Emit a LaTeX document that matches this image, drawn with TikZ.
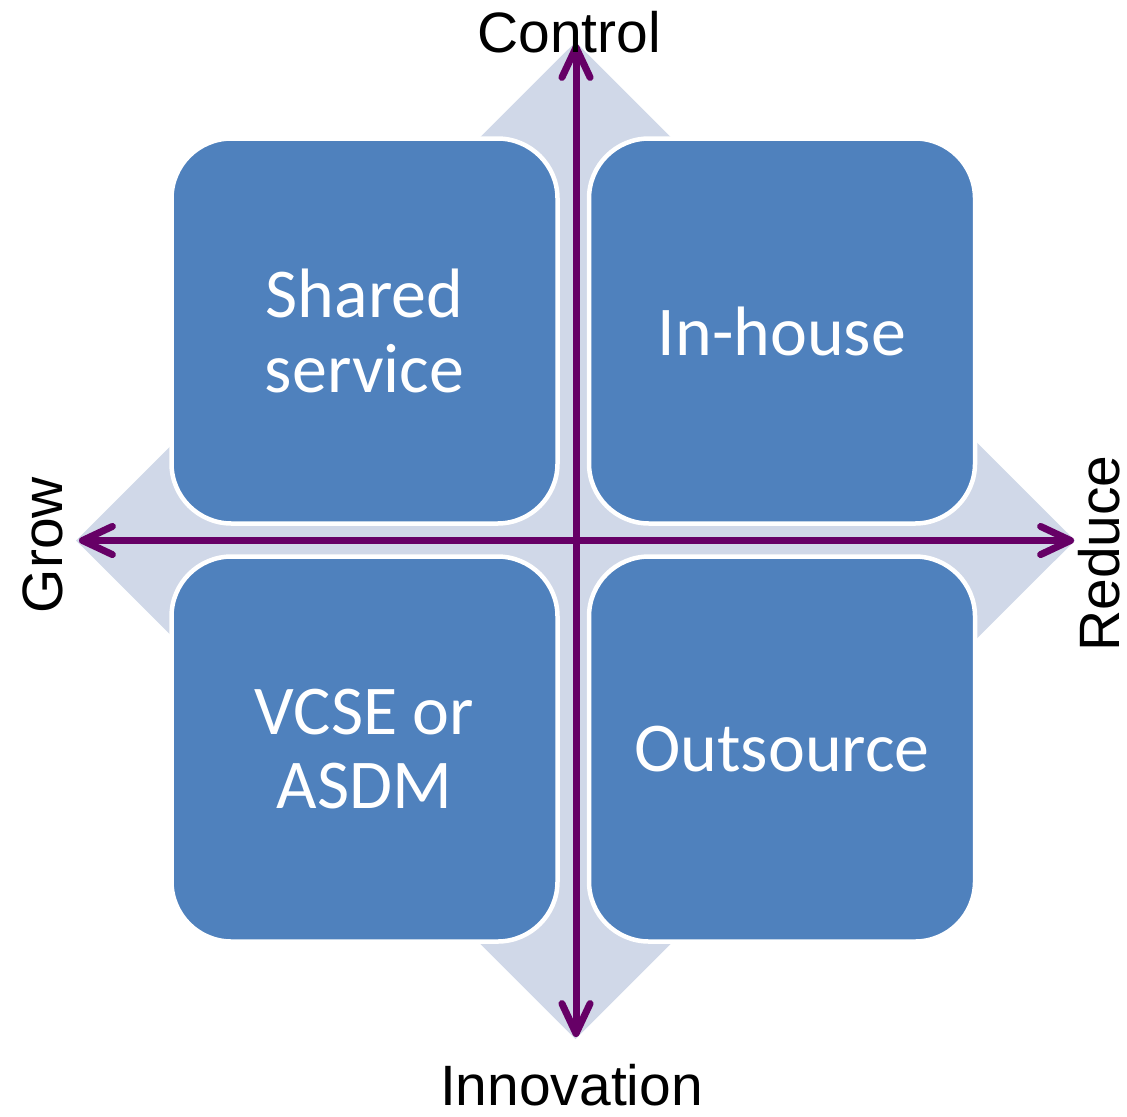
\documentclass[tikz,border=0pt]{standalone}
\usepackage{fontspec}
\setmainfont{Liberation Sans}
\newfontfamily\calfont{Carlito}
\usetikzlibrary{arrows.meta}
\definecolor{boxblue}{HTML}{4F81BD}
\definecolor{diamondgrey}{HTML}{D0D8E8}
\definecolor{axispurple}{HTML}{660066}
\begin{document}
\begin{tikzpicture}%
\useasboundingbox (0,0) rectangle (11.27,11.16);
\fill[diamondgrey] (5.755,10.74)--(10.75,5.755)--(5.755,0.77)--(0.76,5.755)--cycle; %%
\begin{scope}[shape=rectangle,align=center]%
\tikzstyle{every node}=[draw=white,line width=.045cm,fill=boxblue,rounded corners=.6cm,minimum width=3.86cm,minimum height=3.85cm,text=white,font=\calfont\fontsize{19.9}{21.3}\selectfont] %%
\node (shared) at (3.645,7.85)  {Shared\\service}; %%
\node (inhouse) at (7.82,7.85)  {In-house}; %%
\node (vcse) at (3.645,3.67)  {VCSE or\\ASDM}; %%
\node (outsrc) at (7.82,3.67)  {Outsource}; %%
\end{scope}
\coordinate (ctl) at (5.76,10.72);
\coordinate (inn) at (5.76,0.79);
\coordinate (grw) at (0.79,5.755);
\coordinate (red) at (10.74,5.755);
\tikzstyle{axis}=[axispurple,line width=.07cm,{Straight Barb[length=8.5pt,width=8pt,round]}-{Straight Barb[length=8.5pt,width=8pt,round]}]
\draw[axis] (inn)--(ctl); %%
\draw[axis] (grw)--(red); %%
\tikzstyle{label}=[font=\fontsize{16.2}{19}\selectfont,anchor=base,inner sep=0pt]
\node[label] (lctl) at (5.69,10.63) {Control};%
\node[label] (linn) at (5.715,0.11) {Innovation};%
\node[label,rotate=90] (lgrw) at (0.63,5.71) {Grow};%
\node[label,rotate=90] (lred) at (11.19,5.625) {Reduce};%
\end{tikzpicture}
\end{document}
